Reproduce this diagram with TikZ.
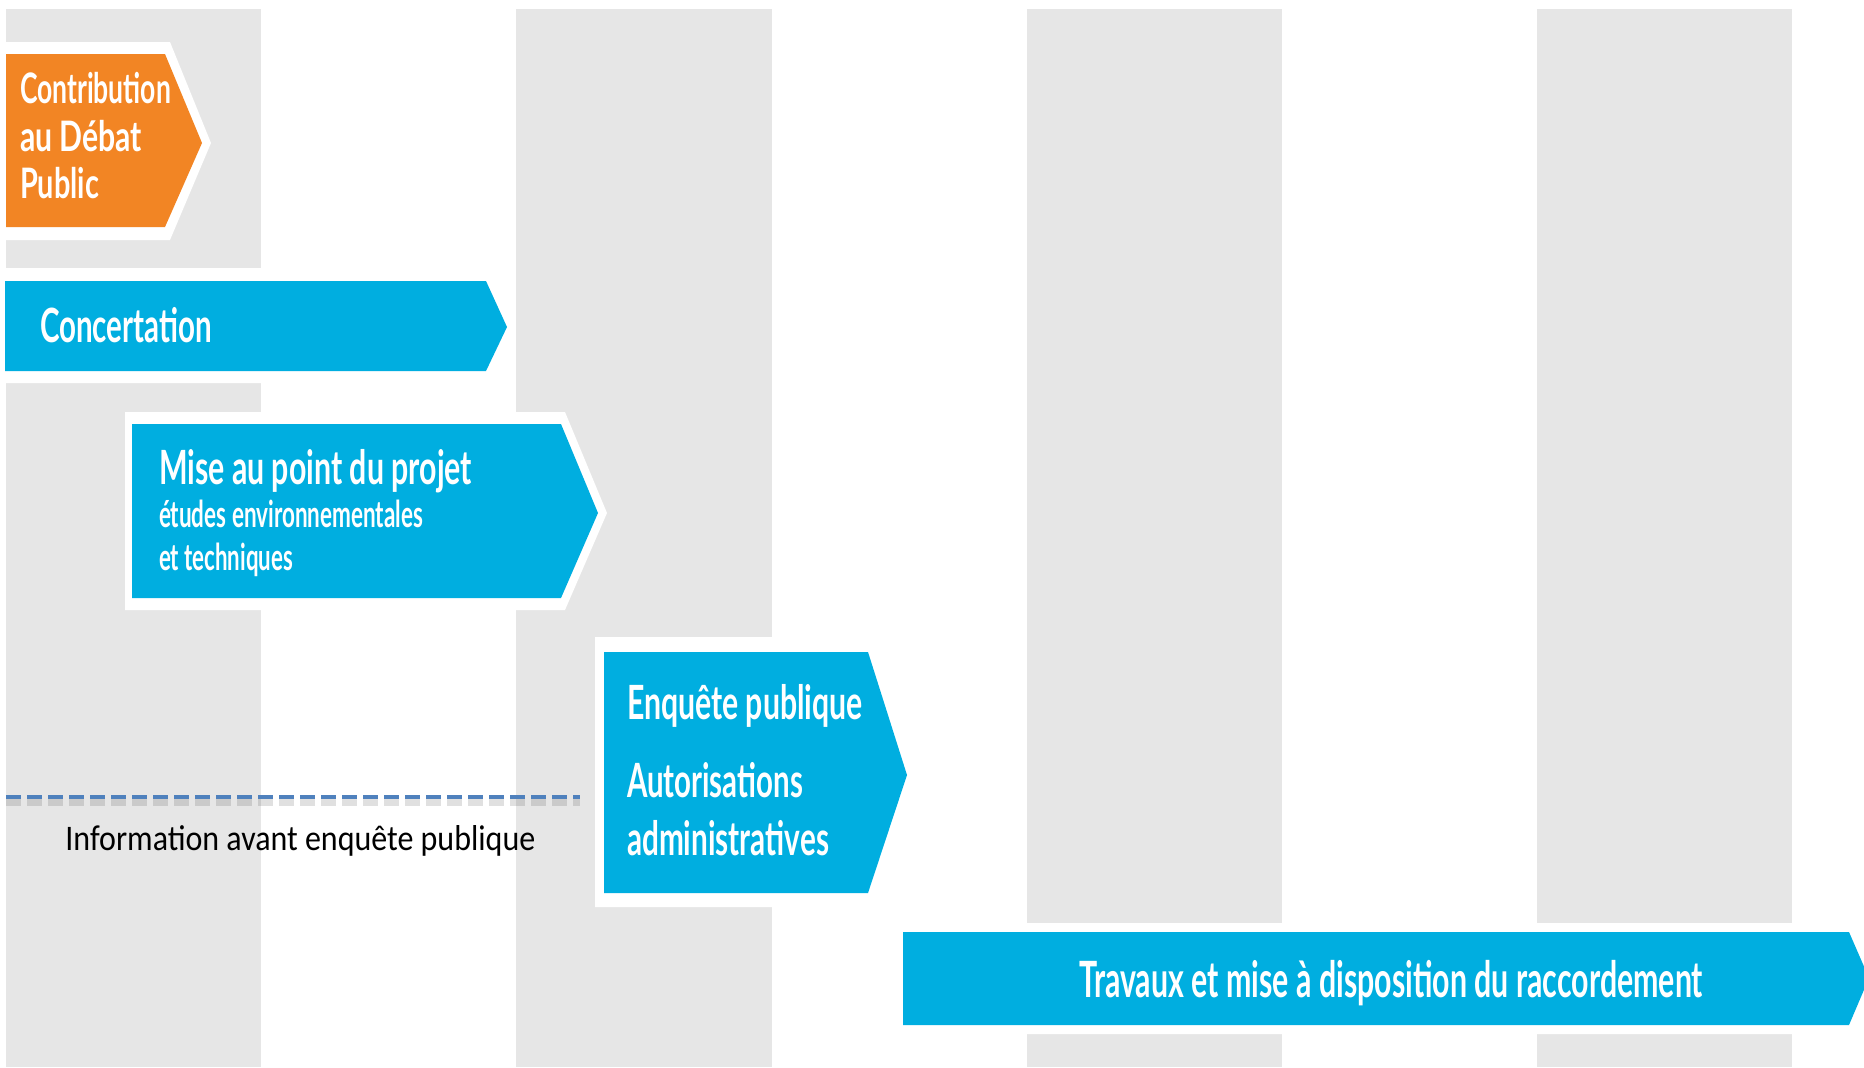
\documentclass[tikz,border=0pt]{standalone}
\usepackage{fontspec}
\usepackage{graphicx}
\newfontfamily\avfont{Lato}[FakeStretch=0.72]
\newfontfamily\calfont{Carlito}
\definecolor{colgray}{HTML}{E6E6E6}
\definecolor{rteblue}{HTML}{00AEE0}
\definecolor{rteorange}{HTML}{F28524}
\definecolor{dashblue}{HTML}{4F81BD}
\newsavebox\fitbox
\newcommand\fitw[2]{\sbox\fitbox{#2}\pgfmathsetmacro\fitr{(#1)/(\wd\fitbox)}\scalebox{\fitr}[1]{\usebox\fitbox}}
\begin{document}
\begin{tikzpicture}[x=0.5pt,y=-0.5pt,
  colband/.style={fill=colgray},
  halo/.style={fill=white},
  bluebox/.style={fill=rteblue},
  orangebox/.style={fill=rteorange},
  lbl/.style={anchor=base west,inner sep=0pt,outer sep=0pt,text=white},
  bigtxt/.style={lbl,font=\avfont\bfseries\fontsize{23.6pt}{28pt}\selectfont},
  midtxt/.style={lbl,font=\avfont\bfseries\fontsize{21pt}{25pt}\selectfont},
  smalltxt/.style={lbl,font=\avfont\bfseries\fontsize{18.5pt}{22pt}\selectfont},
  infodash/.style={dashblue,line width=2.4pt,dash pattern=on 7.5pt off 3pt},
  infoshadow/.style={black,opacity=0.12,line width=4pt,dash pattern=on 7.5pt off 3pt}
]
\useasboundingbox (0,0) rectangle (1864,1067);
\fill[white] (0,0) rectangle (1864,1067);
% grey columns
\fill[colband] (6,9) rectangle (261,1067);
\fill[colband] (516,9) rectangle (772,1067);
\fill[colband] (1027,9) rectangle (1282,1067);
\fill[colband] (1537,9) rectangle (1792,1067);
% white halos
\fill[halo] (0,42) -- (170,42) -- (211,143) -- (170,240) -- (0,240) -- cycle;
\fill[halo] (0,268) -- (492,268) -- (516,327) -- (492,383) -- (0,383) -- cycle;
\fill[halo] (125,412) -- (565,412) -- (607,513) -- (565,610) -- (125,610) -- cycle;
\fill[halo] (595,637) -- (872,637) -- (913,775) -- (872,907) -- (595,907) -- cycle;
\fill[halo] (895,923) -- (1861,923) -- (1884,978) -- (1861,1034) -- (895,1034) -- cycle;
% arrows
\fill[orangebox] (6,54) -- (165,54) -- (202,143) -- (165,227) -- (6,227) -- cycle;
\fill[bluebox] (5,281) -- (486,281) -- (507,327) -- (486,371) -- (5,371) -- cycle;
\fill[bluebox] (132,424) -- (561,424) -- (598,513) -- (561,598) -- (132,598) -- cycle;
\fill[bluebox] (604,652) -- (868,652) -- (907,775) -- (868,893) -- (604,893) -- cycle;
\fill[bluebox] (903,932) -- (1849,932) -- (1869,978) -- (1849,1025) -- (903,1025) -- cycle;
% texts
\node[midtxt] (contrib1) at (20,103) {\fitw{75.5pt}{Contribution}};
\node[midtxt] (contrib2) at (20,151) {\fitw{61pt}{au Débat}};
\node[midtxt] (contrib3) at (20,198) {\fitw{39.5pt}{Public}};
\node[bigtxt] (concert) at (40,342) {\fitw{86pt}{Concertation}};
\node[bigtxt] (mise1) at (159,484) {\fitw{156.5pt}{Mise au point du projet}};
\node[smalltxt] (mise2) at (159,527) {\fitw{132pt}{études environnementales}};
\node[smalltxt] (mise3) at (159,570) {\fitw{67pt}{et techniques}};
\node[bigtxt] (enq1) at (627,719) {\fitw{118pt}{Enquête publique}};
\node[bigtxt] (enq2) at (627,797) {\fitw{88pt}{Autorisations}};
\node[bigtxt] (enq3) at (627,855) {\fitw{101pt}{administratives}};
\node[bigtxt,font=\avfont\bfseries\fontsize{25pt}{30pt}\selectfont] (trav) at (1079,997) {\fitw{312pt}{Travaux et mise à disposition du raccordement}};
% information line
\coordinate (dashL) at (6,797);
\coordinate (dashR) at (580,797);
\coordinate (shadL) at (6,802);
\coordinate (shadR) at (580,802);
\draw[infoshadow] (shadL) -- (shadR);
\draw[infodash] (dashL) -- (dashR);
\node[anchor=base west,inner sep=0pt,font=\calfont\fontsize{18pt}{22pt}\selectfont,text=black] (info) at (65,850) {\fitw{235pt}{Information avant enquête publique}};
\end{tikzpicture}
\end{document}
